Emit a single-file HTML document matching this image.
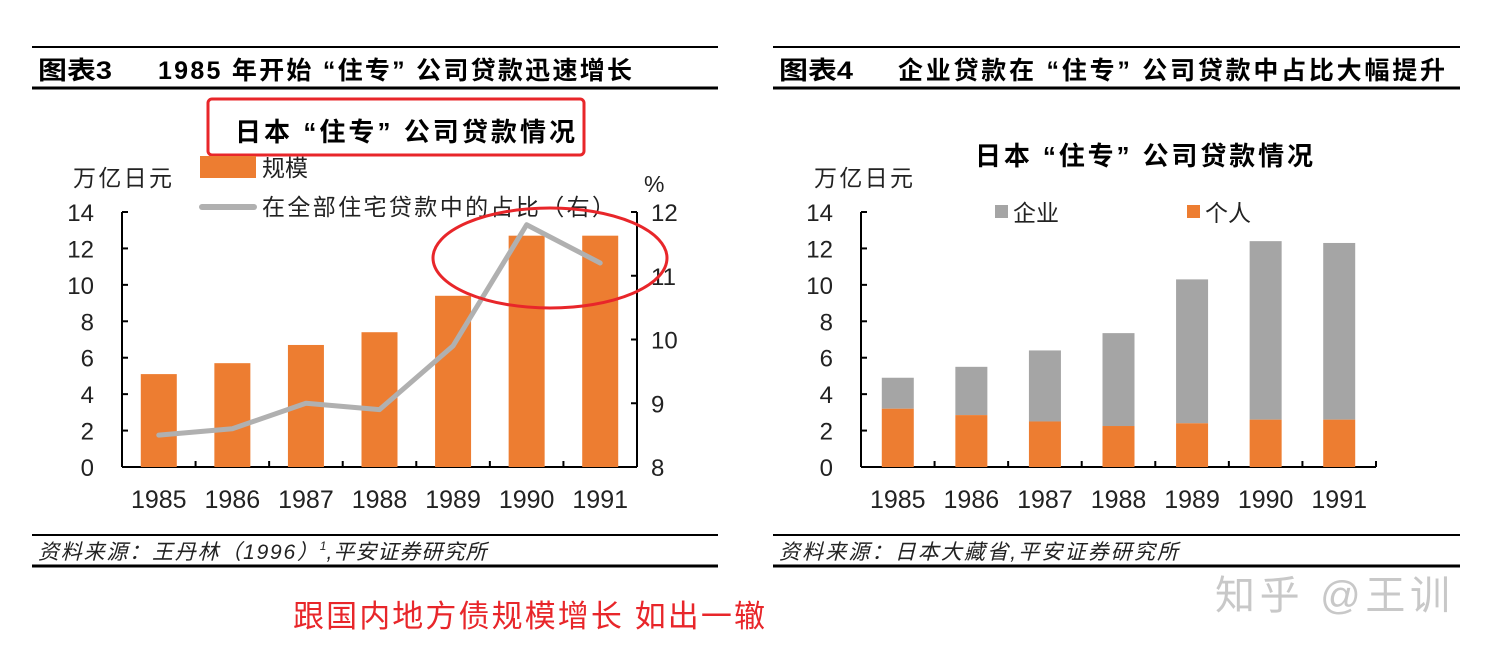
<!DOCTYPE html>
<html><head><meta charset="utf-8">
<style>
body{margin:0;background:#fff;width:1490px;height:654px;overflow:hidden;font-family:"Liberation Sans","Noto Sans CJK SC",sans-serif;}
svg{display:block}
</style></head>
<body>
<svg width="1490" height="654" font-family="Liberation Sans, Noto Sans CJK SC, sans-serif">
<g id="left">
<line x1="32" y1="47" x2="718" y2="47" stroke="#000" stroke-width="2"/>
<line x1="32" y1="88" x2="718" y2="88" stroke="#000" stroke-width="3"/>
<text x="38" y="79" font-size="25" font-weight="bold" textLength="74" lengthAdjust="spacingAndGlyphs">图表3</text>
<text x="158" y="79" font-size="25" font-weight="bold" textLength="474" lengthAdjust="spacing">1985 年开始 “住专” 公司贷款迅速增长</text>
<rect x="208" y="99" width="376" height="56" rx="4" fill="none" stroke="#e8262a" stroke-width="3"/>
<text x="235" y="141" font-size="26" font-weight="bold" textLength="340" lengthAdjust="spacing">日本 “住专” 公司贷款情况</text>
<text x="73" y="186" font-size="23" fill="#222" textLength="99" lengthAdjust="spacing">万亿日元</text>
<text x="644" y="192" font-size="23" fill="#222">%</text>
<rect x="200" y="156" width="56" height="22" fill="#ed7d31"/>
<text x="262" y="176" font-size="23" fill="#222">规模</text>
<line x1="202" y1="207" x2="254" y2="207" stroke="#b0b0b0" stroke-width="6" stroke-linecap="round"/>
<text x="262" y="215" font-size="23" fill="#222" textLength="353" lengthAdjust="spacing">在全部住宅贷款中的占比（右）</text>
<g id="lchart"></g>
<line x1="32" y1="535" x2="718" y2="535" stroke="#000" stroke-width="2"/>
<line x1="32" y1="566" x2="718" y2="566" stroke="#000" stroke-width="3"/>
<text x="38" y="559" font-size="21" font-style="italic" fill="#222"><tspan textLength="280" lengthAdjust="spacing">资料来源：王丹林（1996）</tspan><tspan font-size="12" dy="-9">1</tspan><tspan dy="9" textLength="160" lengthAdjust="spacing">,平安证券研究所</tspan></text>
</g>
<g id="right">
<line x1="773" y1="47" x2="1460" y2="47" stroke="#000" stroke-width="2"/>
<line x1="773" y1="88" x2="1460" y2="88" stroke="#000" stroke-width="3"/>
<text x="779" y="79" font-size="25" font-weight="bold" textLength="74" lengthAdjust="spacingAndGlyphs">图表4</text>
<text x="898" y="79" font-size="25" font-weight="bold" textLength="547" lengthAdjust="spacing">企业贷款在 “住专” 公司贷款中占比大幅提升</text>
<text x="975" y="165" font-size="26" font-weight="bold" textLength="338" lengthAdjust="spacing">日本 “住专” 公司贷款情况</text>
<text x="814" y="186" font-size="23" fill="#222" textLength="99" lengthAdjust="spacing">万亿日元</text>
<rect x="995" y="205" width="13" height="13" fill="#a5a5a5"/>
<text x="1013" y="221" font-size="23" fill="#222">企业</text>
<rect x="1187" y="205" width="13" height="13" fill="#ed7d31"/>
<text x="1205" y="221" font-size="23" fill="#222">个人</text>
<g id="rchart"></g>
<line x1="773" y1="535" x2="1460" y2="535" stroke="#000" stroke-width="2"/>
<line x1="773" y1="566" x2="1460" y2="566" stroke="#000" stroke-width="3"/>
<text x="779" y="559" font-size="21" font-style="italic" fill="#222" textLength="399" lengthAdjust="spacing">资料来源：日本大藏省,平安证券研究所</text>
</g>
<ellipse cx="550" cy="258" rx="117" ry="50" fill="none" stroke="#e8262a" stroke-width="3"/>
<text x="293" y="627" font-size="31" fill="#e8262a" textLength="472" lengthAdjust="spacing">跟国内地方债规模增长 如出一辙</text>
<text x="1215" y="609" font-size="40" fill="#c8c8c8" textLength="235" lengthAdjust="spacing">知乎 @王训</text>
</svg>
<script>
const years=["1985","1986","1987","1988","1989","1990","1991"];
const scaleVals=[5.1,5.7,6.7,7.4,9.4,12.7,12.7];
const shareVals=[8.5,8.6,9.0,8.9,9.9,11.8,11.2];
const leftTicks=[0,2,4,6,8,10,12,14];
const rightTicks=[8,9,10,11,12];
const individualVals=[3.2,2.85,2.5,2.25,2.4,2.6,2.6];
const totalVals=[4.9,5.5,6.4,7.35,10.3,12.4,12.3];
const NS="http://www.w3.org/2000/svg";
function mk(parent,tag,attrs,txt){const e=document.createElementNS(NS,tag);for(const k in attrs)e.setAttribute(k,attrs[k]);if(txt!==undefined)e.textContent=txt;parent.appendChild(e);return e;}
function drawAxes(g,x0,x1,y0,y1,maxV){
  const y=v=>y0-(v/maxV)*(y0-y1);
  const step=(x1-x0)/years.length;
  const ax=mk(g,'line',{x1:x0,y1:y1,x2:x0,y2:y0,stroke:'#000','stroke-width':2});
  
  const bx=mk(g,'line',{x1:x0,y1:y0,x2:x1,y2:y0,stroke:'#000','stroke-width':2});
  
  leftTicks.forEach(t=>{mk(g,'line',{x1:x0,x2:x0+6,y1:y(t),y2:y(t),stroke:'#000','stroke-width':2});
    const l=mk(g,'text',{x:x0-28,y:y(t)+9,'font-size':24,'text-anchor':'end',fill:'#222'},t);
    });
  for(let i=0;i<=years.length;i++){mk(g,'line',{x1:x0+i*step,x2:x0+i*step,y1:y0,y2:y0-6,stroke:'#000','stroke-width':2});}
  years.forEach((yr,i)=>{const l=mk(g,'text',{x:x0+(i+0.5)*step,y:y0+41,'font-size':25,'text-anchor':'middle',fill:'#222'},yr);
    });
  return {y,step};
}
(function(){
  const g=document.getElementById('lchart');
  const x0=122,x1=637,y0=467,y1=212;
  const {y,step}=drawAxes(g,x0,x1,y0,y1,14);
  scaleVals.forEach((v,i)=>{const b=mk(g,'rect',{x:x0+(i+0.5)*step-18,y:y(v),width:36,height:y0-y(v),fill:'#ed7d31'});
    });
  const yr=v=>y0-(v-8)/4*(y0-y1);
  const ra=mk(g,'line',{x1:x1,y1:y1,x2:x1,y2:y0,stroke:'#000','stroke-width':2});
  
  rightTicks.forEach(t=>{mk(g,'line',{x1:x1-6,x2:x1,y1:yr(t),y2:yr(t),stroke:'#000','stroke-width':2});
    const l=mk(g,'text',{x:x1+14,y:yr(t)+9,'font-size':24,fill:'#222'},t);
    });
  const pts=shareVals.map((v,i)=>(x0+(i+0.5)*step)+','+yr(v)).join(' ');
  const pl=mk(g,'polyline',{points:pts,fill:'none',stroke:'#b0b0b0','stroke-width':5,'stroke-linejoin':'round','stroke-linecap':'round'});
  
})();
(function(){
  const g=document.getElementById('rchart');
  const x0=861,x1=1376,y0=467,y1=212;
  const {y,step}=drawAxes(g,x0,x1,y0,y1,14);
  years.forEach((yrn,i)=>{const cx=x0+(i+0.5)*step;
    const a=mk(g,'rect',{x:cx-16,y:y(totalVals[i]),width:32,height:y(individualVals[i])-y(totalVals[i]),fill:'#a5a5a5'});
    
    const b=mk(g,'rect',{x:cx-16,y:y(individualVals[i]),width:32,height:y0-y(individualVals[i]),fill:'#ed7d31'});
    });
})();
</script>
</body></html>
